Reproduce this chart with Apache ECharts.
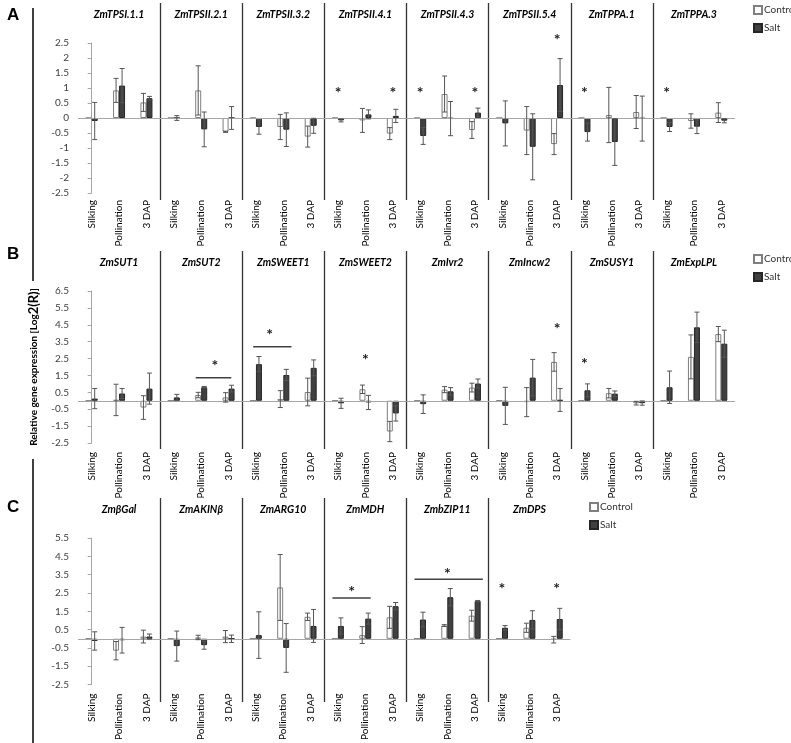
<!DOCTYPE html>
<html><head><meta charset="utf-8">
<script src="https://cdn.jsdelivr.net/npm/echarts@6/dist/echarts.min.js"></script>
<style>html,body{margin:0;padding:0;background:#fff}#c{width:791px;height:743px}</style>
</head><body><div id="c"></div>
<script>
// ---------- DATA ----------
const stages = ['Silking', 'Pollination', '3 DAP'];

// Panel A
const genesA = ['ZmTPSI.1.1','ZmTPSII.2.1','ZmTPSII.3.2','ZmTPSII.4.1','ZmTPSII.4.3','ZmTPSII.5.4','ZmTPPA.1','ZmTPPA.3'];
const ctrlA    = [0, 0.92, 0.52,  0, 0.92, -0.46,  0, -0.30, -0.62,  0, -0.08, -0.52,  0, 0.80, -0.40,  0, -0.42, -0.87,  0, 0.10, 0.20,  0, -0.10, 0.18];
const ctrlErrA = [0, 0.40, 0.30,  0, 0.82, 0.02,   0, 0.42, 0.35,    0, 0.40, 0.20,    0, 0.60, 0.28,   0, 0.80, 0.35,    0, 0.92, 0.55,  0, 0.24, 0.33];
const saltA    = [-0.10, 1.08, 0.66,  0, -0.38, 0.00,  -0.30, -0.39, -0.26,  -0.08, 0.12, 0.07,  -0.60, -0.02, 0.18,  -0.18, -0.96, 1.10,  -0.47, -0.80, -0.02,  -0.30, -0.29, -0.09];
const saltErrA = [0.62, 0.57, 0.06,   0.08, 0.58, 0.38,  0.24, 0.56, 0.25,   0.05, 0.15, 0.22,   0.28, 0.57, 0.15,   0.75, 1.10, 0.88,   0.30, 0.78, 0.75,   0.15, 0.23, 0.07];
const starsA = [[9, 0.95], [11, 0.95], [12, 0.95], [14, 0.95], [17, 2.7], [18, 0.95], [21, 0.95]];
const sigA = [];

// Panel B
const genesB = ['ZmSUT1','ZmSUT2','ZmSWEET1','ZmSWEET2','ZmIvr2','ZmIncw2','ZmSUSY1','ZmExpLPL'];
const ctrlB    = [0, 0.05, -0.40,  0, 0.34, 0.20,  0, 0.10, 0.52,  0, 0.68, -1.82,  0, 0.66, 0.78,  0, -0.08, 2.30,  0, 0.45, -0.15,  0, 2.60, 3.95];
const ctrlErrB = [0, 0.93, 0.70,   0, 0.16, 0.28,  0, 0.50, 0.82,  0, 0.25, 0.60,   0, 0.18, 0.26,  0, 0.86, 0.55,   0, 0.28, 0.10,   0, 1.30, 0.45];
const saltB    = [0.13, 0.43, 0.72,  0.20, 0.80, 0.72,  2.17, 1.53, 1.95,  -0.15, -0.10, -0.75,  -0.20, 0.56, 1.02,  -0.30, 1.37, 0.05,  0.62, 0.42, -0.14,  0.80, 4.35, 3.38];
const saltErrB = [0.60, 0.30, 0.92,  0.18, 0.05, 0.20,  0.45, 0.33, 0.47,  0.30, 0.42, 0.45,   0.55, 0.22, 0.27,   1.10, 1.08, 0.68,   0.38, 0.16, 0.12,   0.96, 0.90, 0.80];
const starsB = [[4.5, 2.24], [6.5, 4.1], [10, 2.6], [17, 4.45], [18, 2.36]];
const sigB = [[3.8, 5.1, 1.37], [5.9, 7.3, 3.2]];

// Panel C
const genesC = ['ZmβGal','ZmAKINβ','ZmARG10','ZmMDH','ZmbZIP11','ZmDPS'];
const ctrlC    = [0, -0.65, 0.12,  0, 0.07, 0.12,  0, 2.80, 1.20,  0, 0.20, 1.17,  0, 0.72, 1.26,  0, 0.60, -0.05];
const ctrlErrC = [0, 0.50, 0.35,   0, 0.12, 0.33,  0, 1.80, 0.20,  0, 0.46, 0.60,  0, 0.05, 0.30,  0, 0.25, 0.18];
const saltC    = [-0.12, -0.08, 0.12,  -0.40, -0.35, 0.00,  0.20, -0.50, 0.70,  0.70, 1.10, 1.78,  1.05, 2.27, 2.06,  0.60, 1.03, 1.08];
const saltErrC = [0.50, 0.70, 0.14,    0.82, 0.22, 0.20,    1.27, 1.33, 0.90,   0.44, 0.30, 0.20,   0.40, 0.47, 0.03,   0.12, 0.50, 0.58];
const starsC = [[9.5, 2.73], [13, 3.7], [15, 2.9], [17, 2.9]];
const sigC = [[8.8, 10.2, 2.23], [11.8, 14.3, 3.25]];

const yTitle = 'Relative gene expression [Log';
const yTitleBig = '2(R)';
// ---------- END DATA ----------

const FONT = 'Lato, "Liberation Sans", Arial, sans-serif';
const panels = [
  {genes: genesA, ctrl: ctrlA, ctrlErr: ctrlErrA, salt: saltA, saltErr: saltErrA, stars: starsA, sig: sigA,
   min: -2.5, max: 2.5, interval: 0.5,
   grid: {left: 78, right: 56, top: 43, height: 150}, sep: {left: 78, right: 56, top: 3, height: 197}, labelMargin: 7},
  {genes: genesB, ctrl: ctrlB, ctrlErr: ctrlErrB, salt: saltB, saltErr: saltErrB, stars: starsB, sig: sigB,
   min: -2.5, max: 6.5, interval: 1,
   grid: {left: 78, right: 56, top: 291, height: 152}, sep: {left: 78, right: 56, top: 251, height: 198}, labelMargin: 9, title: true},
  {genes: genesC, ctrl: ctrlC, ctrlErr: ctrlErrC, salt: saltC, saltErr: saltErrC, stars: starsC, sig: sigC,
   min: -2.5, max: 5.5, interval: 1,
   grid: {left: 78, right: 220.6, top: 538, height: 156}, sep: {left: 78, right: 220.6, top: 498, height: 204}, labelMargin: 9}
];

const BARW = 6;
function errRender(offset) {
  return function (params, api) {
    const idx = api.value(0), v = api.value(1), sd = api.value(2);
    if (!sd) return null;
    const x = api.coord([idx, v])[0] + offset;
    const yt = api.coord([idx, v + sd])[1];
    const yb = api.coord([idx, v - sd])[1];
    const cap = 2.5, st = {stroke: '#555', lineWidth: 1};
    return {type: 'group', children: [
      {type: 'line', shape: {x1: x, y1: yt, x2: x, y2: yb}, style: st},
      {type: 'line', shape: {x1: x - cap, y1: yt, x2: x + cap, y2: yt}, style: st},
      {type: 'line', shape: {x1: x - cap, y1: yb, x2: x + cap, y2: yb}, style: st}
    ]};
  };
}
function starRender(params, api) {
  const c = api.coord([api.value(0), api.value(1)]);
  return {type: 'text', x: c[0], y: c[1] + 3,
    style: {text: '*', font: 'bold 16px ' + FONT, align: 'center', verticalAlign: 'middle', fill: '#222'}};
}
function sigRender(params, api) {
  const a = api.coord([api.value(0), api.value(2)]);
  const b = api.coord([api.value(1), api.value(2)]);
  return {type: 'line', shape: {x1: a[0], y1: a[1], x2: b[0], y2: b[1]}, style: {stroke: '#404040', lineWidth: 1.5}};
}

const grid = [], xAxis = [], yAxis = [], series = [];
panels.forEach((p, i) => {
  const gi = 2 * i, si = 2 * i + 1;
  const xc = 3 * i, xs = 3 * i + 1, xv = 3 * i + 2;
  grid.push(Object.assign({}, p.grid));
  grid.push(Object.assign({}, p.sep));
  const cats = [];
  p.genes.forEach(() => stages.forEach(s => cats.push(s)));
  xAxis.push({type: 'category', gridIndex: gi, data: cats, boundaryGap: true,
    axisLine: {show: false, onZero: false}, axisTick: {show: false},
    axisLabel: {interval: 0, rotate: 90, margin: p.labelMargin, fontSize: 10, color: '#000', fontFamily: FONT}});
  xAxis.push({type: 'category', gridIndex: si, data: p.genes, position: 'top',
    axisLine: {show: false}, axisTick: {show: false},
    splitLine: {show: true, showMinLine: false, showMaxLine: false, lineStyle: {color: '#333', width: 1.3}},
    axisLabel: {inside: true, interval: 0, margin: 6, fontSize: 10.5, fontStyle: 'italic', fontWeight: 'bold', color: '#000', fontFamily: FONT}});
  xAxis.push({type: 'value', gridIndex: gi, min: -0.5, max: cats.length - 0.5, show: false});
  const ya = {type: 'value', gridIndex: gi, min: p.min, max: p.max, interval: p.interval,
    axisLine: {show: true, lineStyle: {color: '#a6a6a6'}}, axisTick: {show: true, length: 4, lineStyle: {color: '#a6a6a6'}},
    splitLine: {show: false},
    axisLabel: {fontSize: 10, color: '#404040', margin: 9, fontFamily: FONT}};
  if (p.title) {
    Object.assign(ya, {name: '{a|' + yTitle + '}{b|' + yTitleBig + '}{a|]}', nameLocation: 'middle', nameRotate: 90, nameGap: 38,
      nameTextStyle: {rich: {a: {fontSize: 10, fontWeight: 'bold', fontFamily: FONT, color: '#000'},
                             b: {fontSize: 13, fontWeight: 'bold', fontFamily: FONT, color: '#000'}}}});
  }
  yAxis.push(ya);
  yAxis.push({type: 'value', gridIndex: si, show: false});

  series.push({name: 'Control', type: 'bar', xAxisIndex: xc, yAxisIndex: gi, data: p.ctrl, barWidth: BARW, barGap: '0%',
    itemStyle: {color: '#ffffff', borderColor: '#7f7f7f', borderWidth: 1},
    markLine: {silent: true, symbol: ['none', 'none'], label: {show: false}, data: [{yAxis: 0}],
      lineStyle: {color: '#a6a6a6', width: 1, type: 'solid'}}});
  series.push({name: 'Salt', type: 'bar', xAxisIndex: xc, yAxisIndex: gi, data: p.salt, barWidth: BARW, barGap: '0%',
    itemStyle: {color: '#404040', borderColor: '#262626', borderWidth: 1}});
  series.push({type: 'custom', xAxisIndex: xc, yAxisIndex: gi, z: 5, renderItem: errRender(-BARW / 2),
    data: p.ctrl.map((v, k) => [k, v, p.ctrlErr[k]])});
  series.push({type: 'custom', xAxisIndex: xc, yAxisIndex: gi, z: 5, renderItem: errRender(BARW / 2),
    data: p.salt.map((v, k) => [k, v, p.saltErr[k]])});
  if (p.stars.length) series.push({type: 'custom', xAxisIndex: xv, yAxisIndex: gi, z: 6, renderItem: starRender, data: p.stars});
  if (p.sig.length) series.push({type: 'custom', xAxisIndex: xv, yAxisIndex: gi, z: 6, renderItem: sigRender, data: p.sig});
});

const legendBase = {data: ['Control', 'Salt'], orient: 'vertical', icon: 'rect', itemWidth: 8, itemHeight: 8, itemGap: 8,
  textStyle: {fontSize: 10, color: '#333', fontFamily: FONT, padding: [0, 0, 0, -3]}, selectedMode: false};
const legend = [
  Object.assign({left: 748, top: 0}, legendBase),
  Object.assign({left: 748, top: 249}, legendBase),
  Object.assign({left: 584, top: 497}, legendBase)
];

const letterStyle = {font: 'bold 17px Arial, "Liberation Sans", sans-serif', fill: '#000'};
const chart = echarts.init(document.getElementById('c'), null, {renderer: 'canvas'});
chart.setOption({
  animation: false,
  backgroundColor: '#fff',
  textStyle: {fontFamily: FONT},
  grid, xAxis, yAxis, series, legend,
  graphic: [
    {type: 'text', left: 7, top: 7, style: Object.assign({text: 'A'}, letterStyle)},
    {type: 'text', left: 7, top: 246, style: Object.assign({text: 'B'}, letterStyle)},
    {type: 'text', left: 7, top: 499, style: Object.assign({text: 'C'}, letterStyle)},
    {type: 'line', shape: {x1: 33, y1: 8, x2: 33, y2: 281}, style: {stroke: '#000', lineWidth: 1.5}},
    {type: 'line', shape: {x1: 33, y1: 459, x2: 33, y2: 743}, style: {stroke: '#000', lineWidth: 1.5}}
  ]
});
</script></body></html>
